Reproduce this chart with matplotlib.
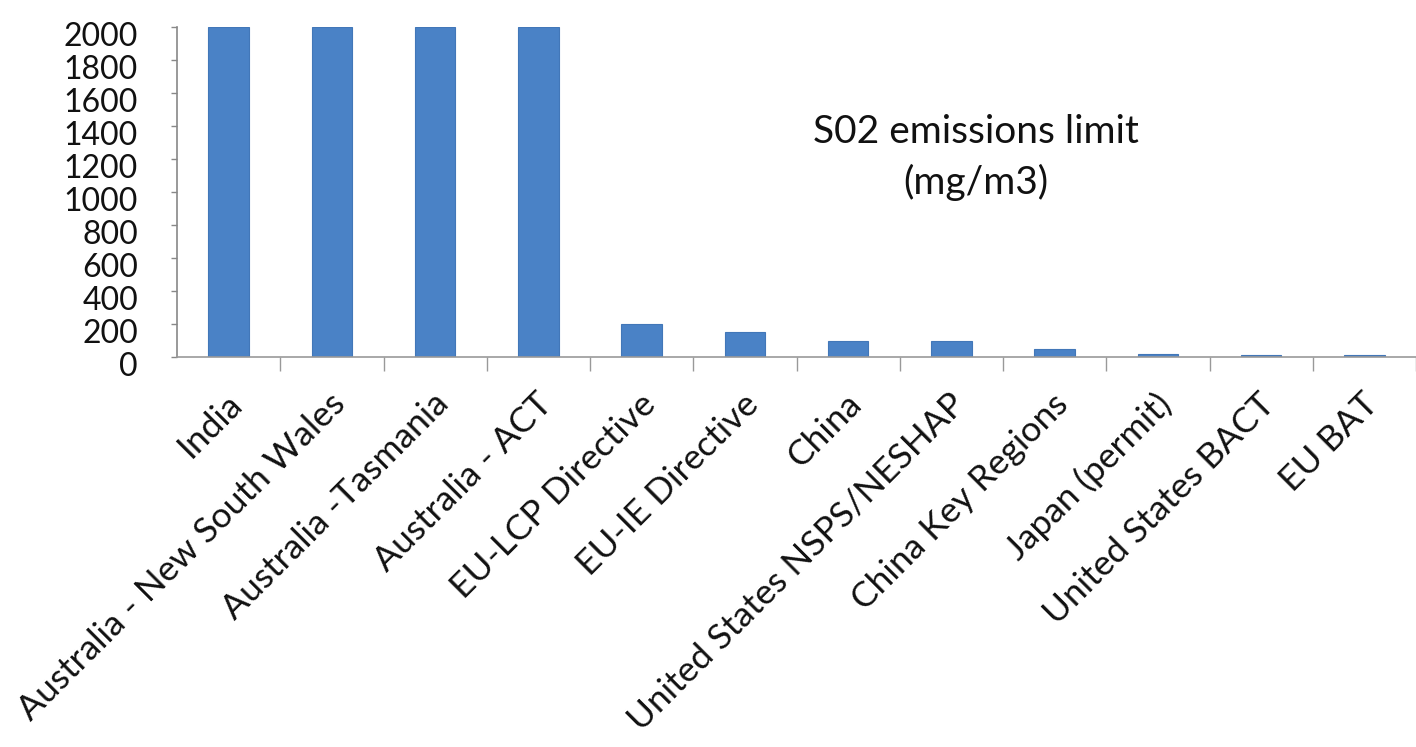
import matplotlib
matplotlib.use("Agg")
import matplotlib.pyplot as plt
from matplotlib.transforms import ScaledTranslation

categories = [
    "India",
    "Australia - New South Wales",
    "Australia -Tasmania",
    "Australia - ACT",
    "EU-LCP Directive",
    "EU-IE Directive",
    "China",
    "United States NSPS/NESHAP",
    "China Key Regions",
    "Japan (permit)",
    "United States BACT",
    "EU BAT",
]
so2_limits = [2000, 2000, 2000, 2000, 200, 150, 100, 100, 50, 20, 15, 10]
y_ticks = list(range(0, 2001, 200))

plt.rcParams["font.family"] = ["Lato", "DejaVu Sans"]

fig = plt.figure(figsize=(14.16, 7.47), dpi=100)
ax = fig.add_axes([0.125, 0.522, 0.875, 0.442])

x = list(range(len(categories)))
ax.bar(x, so2_limits, width=0.39, color="#4a82c6", edgecolor="#4277b8", linewidth=0.8, zorder=2)

ax.set_xlim(-0.5, 11.3)
ax.set_ylim(0, 2000)
ax.set_yticks(y_ticks)
ax.set_yticklabels([str(v) for v in y_ticks], fontsize=23, color="#111111")
ax.tick_params(axis="y", direction="out", length=4, width=1, color="#888888", pad=24)
y_shift = ScaledTranslation(0, -5 / 72, fig.dpi_scale_trans)
for lbl in ax.get_yticklabels():
    lbl.set_transform(lbl.get_transform() + y_shift)

# category labels at centres, tick marks on category boundaries
ax.set_xticks(x)
ax.set_xticklabels(categories, rotation=45, ha="right", rotation_mode="anchor",
                   fontsize=25.5, color="#111111")
ax.tick_params(axis="x", which="major", length=0, pad=22)
x_shift = ScaledTranslation(-2 / 72, 0, fig.dpi_scale_trans)
for lbl in ax.get_xticklabels():
    lbl.set_transform(lbl.get_transform() + x_shift)
ax.set_xticks([i + 0.5 for i in range(len(categories))], minor=True)
ax.tick_params(axis="x", which="minor", direction="out", length=10, width=1, color="#999999")

for side in ("top", "right"):
    ax.spines[side].set_visible(False)
ax.spines["left"].set_color("#888888")
ax.spines["bottom"].set_color("#999999")
ax.spines["left"].set_linewidth(1.2)
ax.spines["bottom"].set_linewidth(1.2)

ax.text(0.645, 0.605, "S02 emissions limit\n(mg/m3)", transform=ax.transAxes,
        ha="center", va="center", fontsize=28, color="#111111", linespacing=1.45)

fig.savefig("out.png", dpi=100)
